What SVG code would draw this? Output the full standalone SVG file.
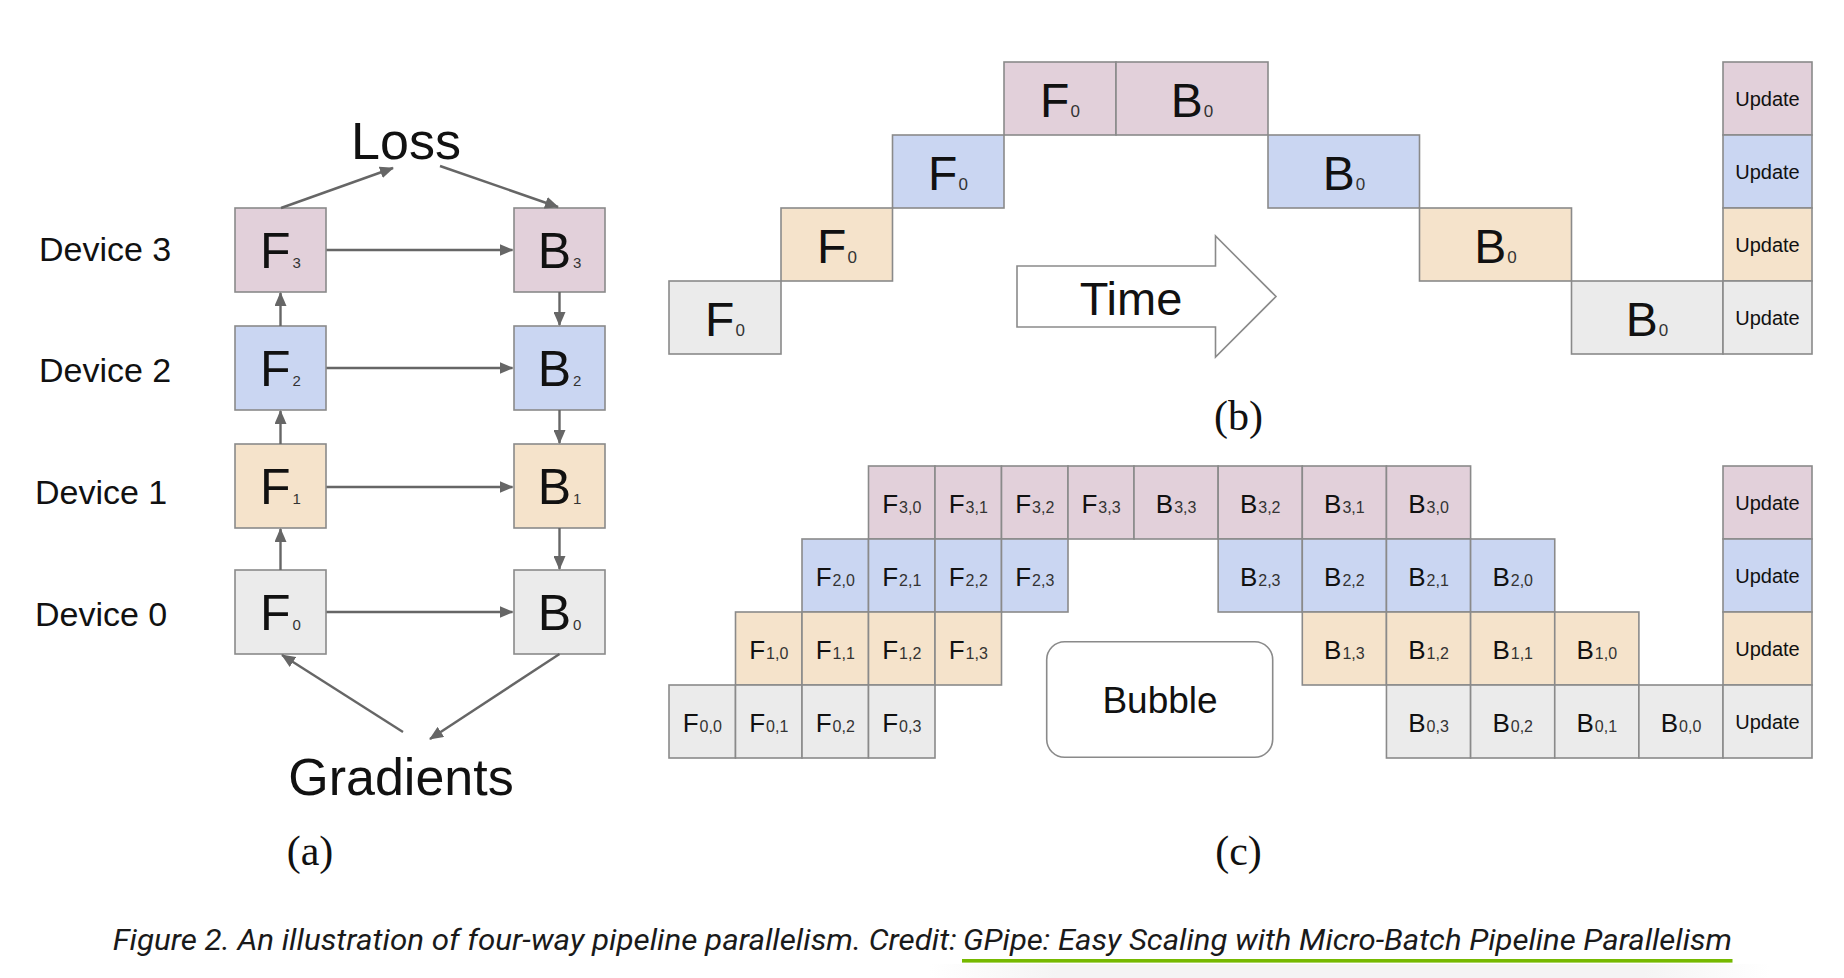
<svg xmlns="http://www.w3.org/2000/svg" width="1844" height="978" viewBox="0 0 1844 978">
<defs>
<style>
.pk{fill:#e2d0da;stroke:#8a8a8a;stroke-width:1.6}
.bl{fill:#cad6f2;stroke:#8a8a8a;stroke-width:1.6}
.or{fill:#f5e3cb;stroke:#8a8a8a;stroke-width:1.6}
.gr{fill:#ebebeb;stroke:#8a8a8a;stroke-width:1.6}
.t{font-family:"Liberation Sans",Arial,sans-serif;fill:#111;text-anchor:middle}
.big{font-size:50px}
.mid{font-size:48px}
.sm{font-size:26px}
.upd{font-size:20px}
.lab{font-family:"Liberation Sans",Arial,sans-serif;fill:#111;font-size:34px}
.ttl{font-family:"Liberation Sans",Arial,sans-serif;fill:#111;font-size:52px;text-anchor:middle}
.pl{font-family:"Liberation Serif","Times New Roman",serif;fill:#111;font-size:42px;text-anchor:middle}
.sub{fill:#333}
.cn{stroke:#666;stroke-width:2.4;fill:none;marker-end:url(#ah)}
.cap{font-family:Roboto,"Noto Sans",sans-serif;font-style:italic;font-size:29px;fill:#1a1a1a}
</style>
<marker id="ah" markerUnits="userSpaceOnUse" markerWidth="14" markerHeight="12" viewBox="0 0 14 12" refX="13" refY="6" orient="auto">
<path d="M0,0 L14,6 L0,12 z" fill="#666"/>
</marker>
<linearGradient id="sh" x1="0" y1="0" x2="1" y2="0">
<stop offset="0" stop-color="#f4f4f4" stop-opacity="0"/>
<stop offset="0.15" stop-color="#f4f4f4" stop-opacity="1"/>
<stop offset="0.85" stop-color="#f4f4f4" stop-opacity="1"/>
<stop offset="1" stop-color="#f4f4f4" stop-opacity="0"/>
</linearGradient>
</defs>
<rect width="1844" height="978" fill="#fff"/>

<!-- Panel (a) -->
<g id="a-labels">
<text class="ttl" x="406" y="159">Loss</text>
<text class="ttl" x="401" y="795">Gradients</text>
<text class="lab" x="39" y="261">Device 3</text>
<text class="lab" x="39" y="382">Device 2</text>
<text class="lab" x="35" y="504">Device 1</text>
<text class="lab" x="35" y="626">Device 0</text>
<text class="pl" x="310" y="865">(a)</text>
</g>
<g id="a-F3"><rect class="pk" x="235" y="208" width="91" height="84"/><text class="t big" x="280.5" y="268">F<tspan class="sub" font-size="15" dx="2">3</tspan></text></g>
<g id="a-B3"><rect class="pk" x="514" y="208" width="91" height="84"/><text class="t big" x="559.5" y="268">B<tspan class="sub" font-size="15" dx="2">3</tspan></text></g>
<g id="a-F2"><rect class="bl" x="235" y="326" width="91" height="84"/><text class="t big" x="280.5" y="386">F<tspan class="sub" font-size="15" dx="2">2</tspan></text></g>
<g id="a-B2"><rect class="bl" x="514" y="326" width="91" height="84"/><text class="t big" x="559.5" y="386">B<tspan class="sub" font-size="15" dx="2">2</tspan></text></g>
<g id="a-F1"><rect class="or" x="235" y="444" width="91" height="84"/><text class="t big" x="280.5" y="504">F<tspan class="sub" font-size="15" dx="2">1</tspan></text></g>
<g id="a-B1"><rect class="or" x="514" y="444" width="91" height="84"/><text class="t big" x="559.5" y="504">B<tspan class="sub" font-size="15" dx="2">1</tspan></text></g>
<g id="a-F0"><rect class="gr" x="235" y="570" width="91" height="84"/><text class="t big" x="280.5" y="630">F<tspan class="sub" font-size="15" dx="2">0</tspan></text></g>
<g id="a-B0"><rect class="gr" x="514" y="570" width="91" height="84"/><text class="t big" x="559.5" y="630">B<tspan class="sub" font-size="15" dx="2">0</tspan></text></g>

<g id="connectors">
<line class="cn" x1="281" y1="208" x2="393" y2="168"/>
<line class="cn" x1="440" y1="166" x2="558" y2="207"/>
<line class="cn" x1="326.5" y1="250" x2="512.5" y2="250"/>
<line class="cn" x1="326.5" y1="368" x2="512.5" y2="368"/>
<line class="cn" x1="326.5" y1="487" x2="512.5" y2="487"/>
<line class="cn" x1="326.5" y1="612" x2="512.5" y2="612"/>
<line class="cn" x1="280.5" y1="570" x2="280.5" y2="529"/>
<line class="cn" x1="280.5" y1="444" x2="280.5" y2="411"/>
<line class="cn" x1="280.5" y1="326" x2="280.5" y2="293"/>
<line class="cn" x1="559.5" y1="292" x2="559.5" y2="325"/>
<line class="cn" x1="559.5" y1="410" x2="559.5" y2="443"/>
<line class="cn" x1="559.5" y1="528" x2="559.5" y2="569"/>
<line class="cn" x1="403" y1="732" x2="282" y2="655"/>
<line class="cn" x1="559.5" y1="654" x2="430" y2="739"/>
</g>

<!-- Panel (b) -->
<g id="b-pink">
<rect class="pk" x="1004" y="62" width="112" height="73"/><text class="t mid" x="1060" y="116.5">F<tspan class="sub" font-size="17" dx="1">0</tspan></text>
<rect class="pk" x="1116" y="62" width="152" height="73"/><text class="t mid" x="1192" y="116.5">B<tspan class="sub" font-size="17" dx="1">0</tspan></text>
<rect class="pk" x="1723" y="62" width="89" height="73"/><text class="t upd" x="1767.5" y="106">Update</text>
</g>
<g id="b-blue">
<rect class="bl" x="892.5" y="135" width="111.5" height="73"/><text class="t mid" x="948" y="189.5">F<tspan class="sub" font-size="17" dx="1">0</tspan></text>
<rect class="bl" x="1268" y="135" width="151.5" height="73"/><text class="t mid" x="1344" y="189.5">B<tspan class="sub" font-size="17" dx="1">0</tspan></text>
<rect class="bl" x="1723" y="135" width="89" height="73"/><text class="t upd" x="1767.5" y="179">Update</text>
</g>
<g id="b-orange">
<rect class="or" x="781" y="208" width="111.5" height="73"/><text class="t mid" x="837" y="262.5">F<tspan class="sub" font-size="17" dx="1">0</tspan></text>
<rect class="or" x="1419.5" y="208" width="152" height="73"/><text class="t mid" x="1495.5" y="262.5">B<tspan class="sub" font-size="17" dx="1">0</tspan></text>
<rect class="or" x="1723" y="208" width="89" height="73"/><text class="t upd" x="1767.5" y="252">Update</text>
</g>
<g id="b-gray">
<rect class="gr" x="669" y="281" width="112" height="73"/><text class="t mid" x="725" y="335.5">F<tspan class="sub" font-size="17" dx="1">0</tspan></text>
<rect class="gr" x="1571.5" y="281" width="151.5" height="73"/><text class="t mid" x="1647" y="335.5">B<tspan class="sub" font-size="17" dx="1">0</tspan></text>
<rect class="gr" x="1723" y="281" width="89" height="73"/><text class="t upd" x="1767.5" y="325">Update</text>
</g>
<g id="b-time">
<polygon points="1017,266 1215.5,266 1215.5,236 1276,296.5 1215.5,357 1215.5,327 1017,327" fill="#fff" stroke="#8a8a8a" stroke-width="1.6"/>
<text class="t" font-size="47" x="1131" y="315">Time</text>
</g>
<text class="pl" x="1238.5" y="430">(b)</text>

<!-- Panel (c) -->
<g id="c-row3">
<rect class="pk" x="868.5" y="466" width="66.5" height="73"/><text class="t sm" x="901.75" y="513">F<tspan class="sub" font-size="16" dx="1">3,0</tspan></text>
<rect class="pk" x="935" y="466" width="66.5" height="73"/><text class="t sm" x="968.25" y="513">F<tspan class="sub" font-size="16" dx="1">3,1</tspan></text>
<rect class="pk" x="1001.5" y="466" width="66.5" height="73"/><text class="t sm" x="1034.75" y="513">F<tspan class="sub" font-size="16" dx="1">3,2</tspan></text>
<rect class="pk" x="1068" y="466" width="66" height="73"/><text class="t sm" x="1101" y="513">F<tspan class="sub" font-size="16" dx="1">3,3</tspan></text>
<rect class="pk" x="1134" y="466" width="84.15" height="73"/><text class="t sm" x="1176.1" y="513">B<tspan class="sub" font-size="16" dx="1">3,3</tspan></text>
<rect class="pk" x="1218.15" y="466" width="84.15" height="73"/><text class="t sm" x="1260.2" y="513">B<tspan class="sub" font-size="16" dx="1">3,2</tspan></text>
<rect class="pk" x="1302.3" y="466" width="84.15" height="73"/><text class="t sm" x="1344.4" y="513">B<tspan class="sub" font-size="16" dx="1">3,1</tspan></text>
<rect class="pk" x="1386.45" y="466" width="84.15" height="73"/><text class="t sm" x="1428.5" y="513">B<tspan class="sub" font-size="16" dx="1">3,0</tspan></text>
<rect class="pk" x="1723" y="466" width="89" height="73"/><text class="t upd" x="1767.5" y="510">Update</text>
</g>
<g id="c-row2">
<rect class="bl" x="802" y="539" width="66.5" height="73"/><text class="t sm" x="835.25" y="586">F<tspan class="sub" font-size="16" dx="1">2,0</tspan></text>
<rect class="bl" x="868.5" y="539" width="66.5" height="73"/><text class="t sm" x="901.75" y="586">F<tspan class="sub" font-size="16" dx="1">2,1</tspan></text>
<rect class="bl" x="935" y="539" width="66.5" height="73"/><text class="t sm" x="968.25" y="586">F<tspan class="sub" font-size="16" dx="1">2,2</tspan></text>
<rect class="bl" x="1001.5" y="539" width="66.5" height="73"/><text class="t sm" x="1034.75" y="586">F<tspan class="sub" font-size="16" dx="1">2,3</tspan></text>
<rect class="bl" x="1218.15" y="539" width="84.15" height="73"/><text class="t sm" x="1260.2" y="586">B<tspan class="sub" font-size="16" dx="1">2,3</tspan></text>
<rect class="bl" x="1302.3" y="539" width="84.15" height="73"/><text class="t sm" x="1344.4" y="586">B<tspan class="sub" font-size="16" dx="1">2,2</tspan></text>
<rect class="bl" x="1386.45" y="539" width="84.15" height="73"/><text class="t sm" x="1428.5" y="586">B<tspan class="sub" font-size="16" dx="1">2,1</tspan></text>
<rect class="bl" x="1470.6" y="539" width="84.15" height="73"/><text class="t sm" x="1512.7" y="586">B<tspan class="sub" font-size="16" dx="1">2,0</tspan></text>
<rect class="bl" x="1723" y="539" width="89" height="73"/><text class="t upd" x="1767.5" y="583">Update</text>
</g>
<g id="c-row1">
<rect class="or" x="735.5" y="612" width="66.5" height="73"/><text class="t sm" x="768.75" y="659">F<tspan class="sub" font-size="16" dx="1">1,0</tspan></text>
<rect class="or" x="802" y="612" width="66.5" height="73"/><text class="t sm" x="835.25" y="659">F<tspan class="sub" font-size="16" dx="1">1,1</tspan></text>
<rect class="or" x="868.5" y="612" width="66.5" height="73"/><text class="t sm" x="901.75" y="659">F<tspan class="sub" font-size="16" dx="1">1,2</tspan></text>
<rect class="or" x="935" y="612" width="66.5" height="73"/><text class="t sm" x="968.25" y="659">F<tspan class="sub" font-size="16" dx="1">1,3</tspan></text>
<rect class="or" x="1302.3" y="612" width="84.15" height="73"/><text class="t sm" x="1344.4" y="659">B<tspan class="sub" font-size="16" dx="1">1,3</tspan></text>
<rect class="or" x="1386.45" y="612" width="84.15" height="73"/><text class="t sm" x="1428.5" y="659">B<tspan class="sub" font-size="16" dx="1">1,2</tspan></text>
<rect class="or" x="1470.6" y="612" width="84.15" height="73"/><text class="t sm" x="1512.7" y="659">B<tspan class="sub" font-size="16" dx="1">1,1</tspan></text>
<rect class="or" x="1554.75" y="612" width="84.15" height="73"/><text class="t sm" x="1596.8" y="659">B<tspan class="sub" font-size="16" dx="1">1,0</tspan></text>
<rect class="or" x="1723" y="612" width="89" height="73"/><text class="t upd" x="1767.5" y="656">Update</text>
</g>
<g id="c-row0">
<rect class="gr" x="669" y="685" width="66.5" height="73"/><text class="t sm" x="702.25" y="732">F<tspan class="sub" font-size="16" dx="1">0,0</tspan></text>
<rect class="gr" x="735.5" y="685" width="66.5" height="73"/><text class="t sm" x="768.75" y="732">F<tspan class="sub" font-size="16" dx="1">0,1</tspan></text>
<rect class="gr" x="802" y="685" width="66.5" height="73"/><text class="t sm" x="835.25" y="732">F<tspan class="sub" font-size="16" dx="1">0,2</tspan></text>
<rect class="gr" x="868.5" y="685" width="66.5" height="73"/><text class="t sm" x="901.75" y="732">F<tspan class="sub" font-size="16" dx="1">0,3</tspan></text>
<rect class="gr" x="1386.45" y="685" width="84.15" height="73"/><text class="t sm" x="1428.5" y="732">B<tspan class="sub" font-size="16" dx="1">0,3</tspan></text>
<rect class="gr" x="1470.6" y="685" width="84.15" height="73"/><text class="t sm" x="1512.7" y="732">B<tspan class="sub" font-size="16" dx="1">0,2</tspan></text>
<rect class="gr" x="1554.75" y="685" width="84.15" height="73"/><text class="t sm" x="1596.8" y="732">B<tspan class="sub" font-size="16" dx="1">0,1</tspan></text>
<rect class="gr" x="1638.9" y="685" width="84.1" height="73"/><text class="t sm" x="1681" y="732">B<tspan class="sub" font-size="16" dx="1">0,0</tspan></text>
<rect class="gr" x="1723" y="685" width="89" height="73"/><text class="t upd" x="1767.5" y="729">Update</text>
</g>
<g id="c-bubble">
<rect x="1046.7" y="641.7" width="226" height="115.6" rx="18" ry="18" fill="#fff" stroke="#8a8a8a" stroke-width="1.6"/>
<text class="t" font-size="37" x="1160" y="713">Bubble</text>
</g>
<text class="pl" x="1238.5" y="865">(c)</text>

<!-- Caption -->
<g id="caption">
<rect x="930" y="964" width="840" height="14" fill="url(#sh)"/>
<text class="cap" x="112.7" y="950" textLength="844" lengthAdjust="spacingAndGlyphs">Figure 2. An illustration of four-way pipeline parallelism. Credit:</text>
<text class="cap" x="963" y="950" textLength="769" lengthAdjust="spacingAndGlyphs">GPipe: Easy Scaling with Micro-Batch Pipeline Parallelism</text>
<rect x="962" y="959" width="770.5" height="3.6" fill="#76b900"/>
</g>
</svg>
